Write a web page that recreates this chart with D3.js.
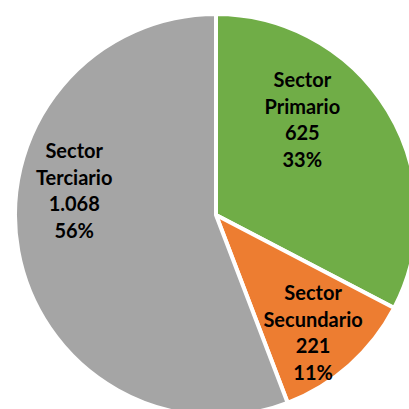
<!DOCTYPE html>
<html><head><meta charset="utf-8">
<script src="https://cdn.jsdelivr.net/npm/d3@7"></script>
<style>html,body{margin:0;padding:0;background:#fff;}svg{display:block;}</style>
</head><body>
<svg id="c" width="409" height="409"></svg>
<script>
const categories = ["Sector Primario", "Sector Secundario", "Sector Terciario"];
const nameLines = [["Sector", "Primario"], ["Sector", "Secundario"], ["Sector", "Terciario"]];
const values = [625, 221, 1068];
const valueLabels = ["625", "221", "1.068"];
const percentLabels = ["33%", "11%", "56%"];
const colors = ["#70AD47", "#ED7D31", "#A5A5A5"];
// label placement (polar, degrees clockwise from top, px from centre)
const labelAngles = [42, 140.3, 280];
const labelRadii = [129, 152, 144];

const W = 409, H = 409, cx = 216, cy = 215, R = 201;
const svg = d3.select("#c");
const g = svg.append("g").attr("transform", `translate(${cx},${cy})`);
const pie = d3.pie().sort(null).value(d => d)(values);
const arc = d3.arc().innerRadius(0).outerRadius(R);
g.selectAll("path").data(pie).join("path")
  .attr("d", arc).attr("fill", (d, i) => colors[i])
  .attr("stroke", "#fff").attr("stroke-width", 4).attr("stroke-linejoin", "round");

const lh = 26.5;
pie.forEach((d, i) => {
  const a = labelAngles[i] * Math.PI / 180;
  const x = Math.sin(a) * labelRadii[i], y = -Math.cos(a) * labelRadii[i];
  const lines = [...nameLines[i], valueLabels[i], percentLabels[i]];
  const t = g.append("text").attr("text-anchor", "middle")
    .attr("font-family", "Lato, 'Open Sans', sans-serif").attr("font-weight", "bold")
    .attr("font-size", 20).attr("fill", "#000");
  lines.forEach((s, k) => {
    t.append("tspan").attr("x", x).attr("y", y + (k - (lines.length - 1) / 2) * lh)
      .attr("dominant-baseline", "central").text(s);
  });
});
</script>
</body></html>
